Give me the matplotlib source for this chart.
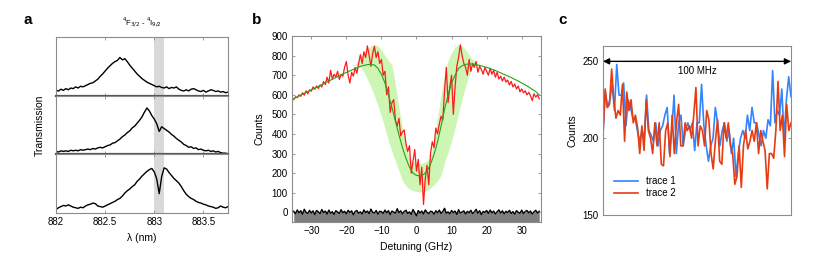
import numpy as np
import matplotlib
matplotlib.use('Agg')
import matplotlib.pyplot as plt

plt.rcParams['font.family'] = ['Liberation Sans', 'DejaVu Sans']

# ---- panel a : transmission spectra (normalised), 882.0 .. 883.75 nm step 0.025
lam_start = 882.0
lam_step = 0.025
trans1 = [0.09, 0.08, 0.11, 0.09, 0.12, 0.10, 0.13, 0.12, 0.15, 0.13,
          0.16, 0.15, 0.17, 0.19, 0.21, 0.22, 0.25, 0.28, 0.33, 0.37,
          0.42, 0.47, 0.51, 0.55, 0.58, 0.60, 0.65, 0.61, 0.63, 0.58,
          0.52, 0.47, 0.42, 0.37, 0.33, 0.29, 0.26, 0.23, 0.21, 0.19,
          0.17, 0.15, 0.16, 0.14, 0.13, 0.15, 0.12, 0.14, 0.13, 0.15,
          0.11, 0.09, 0.08, 0.10, 0.08, 0.11, 0.12, 0.10, 0.08, 0.07,
          0.09, 0.06, 0.08, 0.10, 0.09, 0.07, 0.08, 0.06, 0.07, 0.05, 0.06]
trans2 = [0.05, 0.04, 0.06, 0.05, 0.06, 0.05, 0.07, 0.06, 0.07, 0.06,
          0.08, 0.07, 0.08, 0.09, 0.08, 0.10, 0.09, 0.11, 0.12, 0.11,
          0.13, 0.15, 0.16, 0.19, 0.20, 0.23, 0.26, 0.30, 0.33, 0.37,
          0.40, 0.45, 0.48, 0.53, 0.58, 0.64, 0.72, 0.79, 0.74, 0.66,
          0.60, 0.52, 0.39, 0.47, 0.44, 0.41, 0.38, 0.34, 0.31, 0.27,
          0.24, 0.21, 0.17, 0.15, 0.12, 0.13, 0.10, 0.11, 0.08, 0.09,
          0.07, 0.06, 0.07, 0.05, 0.06, 0.04, 0.05, 0.03, 0.02, 0.02, 0.01]
trans3 = [0.06, 0.09, 0.11, 0.13, 0.12, 0.14, 0.12, 0.10, 0.09, 0.08,
          0.10, 0.09, 0.12, 0.14, 0.15, 0.17, 0.16, 0.12, 0.11, 0.10,
          0.12, 0.14, 0.16, 0.18, 0.20, 0.23, 0.25, 0.29, 0.34, 0.38,
          0.41, 0.45, 0.48, 0.54, 0.58, 0.63, 0.67, 0.71, 0.74, 0.76,
          0.70, 0.58, 0.33, 0.62, 0.77, 0.75, 0.69, 0.64, 0.59, 0.55,
          0.51, 0.45, 0.38, 0.32, 0.28, 0.25, 0.23, 0.20, 0.18, 0.17,
          0.15, 0.14, 0.12, 0.11, 0.10, 0.08, 0.09, 0.12, 0.10, 0.09, 0.11]
band_a = [883.0, 883.1]
ticks_a = [882, 882.5, 883, 883.5]

# ---- panel b : counts vs detuning, data every 0.5 GHz from -35
det_start = -35.0
det_step = 0.5
counts = [575, 590, 585, 600, 592, 610, 598, 620, 605, 625,
          618, 640, 628, 645, 632, 650, 640, 668, 652, 690,
          660, 725, 680, 705, 690, 720, 678, 705, 695, 740,
          770, 700, 660, 715, 695, 740, 710, 760, 805, 760,
          820, 790, 850, 800, 745, 810, 848, 790, 820, 760,
          780, 700, 720, 600, 640, 510, 560, 575, 470, 440,
          480, 390, 410, 420, 350, 310, 340, 200, 260, 320,
          210, 270, 140, 230, 40, 170, 240, 140, 300, 360,
          330, 430, 400, 450, 490, 470, 620, 740, 560, 640,
          700, 500, 640, 745, 790, 855, 800, 760, 740, 700,
          780, 720, 760, 740, 770, 715, 745, 730, 705, 740,
          720, 700, 735, 705, 725, 690, 715, 680, 695, 670,
          690, 665, 675, 650, 668, 640, 655, 630, 645, 615,
          630, 610, 620, 600, 612, 595, 570, 605, 588, 600, 580]
background = [5, -8, 12, -3, 8, -10, 15, 0, -6, 10, -4, 7, -12, 9, 2, -7, 14, -2, 6, -9,
              11, -5, 3, -11, 8, 1, -6, 13, -3, 5, -8, 10, -1, 7, -13, 4, 9, -5, 2, -9,
              12, -2, 6, -7, 16, 0, -4, 9, -10, 5, 3, -6, 11, -3, 8, -12, 6, 1, -5, 18,
              -2, 7, -8, 4, 10, -6, 2, -11, 14, -1, -18, 9, -4, 6, -9, 12, 0, -7, 5, 3,
              -10, 8, -3, 11, -6, 4, 20, -5, 2, -8, 9, -2, 6, -11, 13, -4, 1, 7, -9, 5,
              -3, 10, -7, 2, 15, -5, 8, -12, 4, -1, 9, -6, 11, -3, 6, -9, 3, 12, -4, 7,
              -8, 5, -2, 10, -6, 3, -10, 8, 0, -5, 11, -7, 4, 9, -3, 6, -9, 2, 10, -4, 5]
# fit, 1 GHz steps from -35 to 35
fit_start = -35
fit = [580, 589, 598, 607, 616, 625, 634, 643, 652, 661,
       670, 679, 688, 697, 706, 714, 722, 730, 738, 745,
       750, 754, 755, 752, 735, 705, 660, 600, 535, 465,
       395, 330, 275, 230, 200, 188, 186, 192, 210, 245,
       295, 360, 440, 525, 600, 660, 700, 735, 748, 755,
       758, 757, 754, 750, 745, 740, 734, 727, 720, 712,
       704, 696, 688, 679, 670, 660, 650, 640, 628, 616, 600]
# confidence band, 1 GHz steps from -18 to 18
band_start = -18
band_hi = [752, 762, 785, 810, 835, 850, 855, 850, 830, 800,
           775, 755, 650, 530, 430, 340, 275, 260, 250, 248,
           252, 262, 285, 370, 480, 600, 700, 775, 815, 845,
           855, 850, 830, 805, 780, 762, 755]
band_lo = [750, 752, 740, 715, 680, 640, 595, 545, 490, 430,
           365, 310, 260, 210, 160, 135, 118, 110, 106, 103,
           105, 112, 125, 140, 160, 190, 255, 305, 365, 430,
           510, 580, 645, 700, 740, 758, 755]

# ---- panel c : two traces over 100 MHz
trace1 = [203, 230, 220, 225, 235, 218, 248, 228, 228, 236,
          208, 225, 220, 213, 213, 205, 198, 205, 200, 228,
          205, 202, 198, 210, 195, 205, 208, 215, 220, 190,
          205, 228, 190, 210, 215, 195, 205, 210, 205, 210,
          192, 210, 210, 235, 208, 195, 185, 195, 200, 220,
          210, 195, 205, 210, 198, 205, 190, 200, 175, 190,
          200, 205, 200, 215, 205, 220, 210, 210, 202, 195,
          205, 200, 212, 208, 244, 210, 218, 215, 232, 200,
          225, 240, 227]
trace2 = [202, 232, 220, 222, 245, 225, 213, 218, 215, 235,
          198, 230, 218, 225, 210, 215, 207, 190, 208, 192,
          225, 205, 200, 190, 210, 195, 210, 183, 182, 205,
          210, 188, 215, 190, 210, 222, 195, 195, 210, 205,
          208, 200, 215, 233, 195, 208, 205, 195, 218, 212,
          190, 180, 198, 212, 185, 183, 210, 200, 210, 195,
          190, 170, 175, 195, 168, 195, 205, 193, 198, 205,
          198, 210, 190, 205, 198, 192, 167, 190, 190, 187,
          205, 237, 205, 215, 188, 222, 205, 210]
span_mhz = 100

SPINE = '#8c8c8c'
FS = 7


def style_box(ax):
    for s in ax.spines.values():
        s.set_color(SPINE)
        s.set_linewidth(0.8)
    ax.tick_params(direction='in', length=2.5, width=0.6, color=SPINE,
                   labelsize=FS, top=True, right=True, pad=3)


def plot_all():
    fig = plt.figure(figsize=(8.3, 2.64), dpi=100)

    # panel a
    left, width = 0.0675, 0.2072
    bottom, top = 0.193, 0.860
    h = (top - bottom) / 3
    lam = lam_start + lam_step * np.arange(len(trans1))
    axs = []
    for k, tr in enumerate([trans1, trans2, trans3]):
        ax = fig.add_axes([left, top - (k + 1) * h, width, h])
        ax.axvspan(band_a[0], band_a[1], color='#d9d9d9', lw=0, zorder=0)
        ax.plot(lam, tr, color='k', lw=1.0)
        ax.set_xlim(882, 883.75)
        ax.set_ylim(0, 1)
        ax.set_yticks([])
        ax.set_xticks(ticks_a)
        style_box(ax)
        ax.tick_params(axis='y', left=False, right=False)
        if k < 2:
            ax.tick_params(labelbottom=False)
            ax.spines['bottom'].set_color('#555555')
            ax.spines['bottom'].set_linewidth(1.6)
        else:
            ax.set_xticklabels(['882', '882.5', '883', '883.5'])
            ax.set_xlabel('λ (nm)', fontsize=FS + 0.5, labelpad=4)
        axs.append(ax)
    axs[1].set_ylabel('Transmission', fontsize=FS + 0.5, labelpad=8)
    axs[0].set_title(r'$^4$F$_{3/2}$ - $^4$I$_{9/2}$', fontsize=5.5, pad=8)

    # panel b
    ax = fig.add_axes([0.3518, 0.159, 0.300, 0.7045])
    det = det_start + det_step * np.arange(len(counts))
    detb = det_start + det_step * np.arange(len(background))
    dfit = fit_start + np.arange(len(fit))
    dband = band_start + np.arange(len(band_hi))
    ax.fill_between(dband, band_lo, band_hi, color='#cdf5b4', lw=0, zorder=1)
    ax.fill_between(detb, -50, background, color='#7f7f7f', lw=0, zorder=2)
    ax.plot(detb, background, color='k', lw=1.0, zorder=3)
    ax.plot(det, counts, color='#ff1a1a', lw=0.9, zorder=3)
    ax.plot(dfit, fit, color='#2e9e1e', lw=0.8, zorder=4)
    ax.set_xlim(-35.5, 35.5)
    ax.set_ylim(-50, 900)
    ax.set_xticks(np.arange(-30, 31, 10))
    ax.set_yticks(np.arange(0, 901, 100))
    style_box(ax)
    ax.set_xlabel('Detuning (GHz)', fontsize=FS + 0.5, labelpad=4)
    ax.set_ylabel('Counts', fontsize=FS + 0.5, labelpad=5)

    # panel c
    ax = fig.add_axes([0.7265, 0.1856, 0.2265, 0.6402])
    x1 = np.linspace(0, span_mhz, len(trace1))
    x2 = np.linspace(0, span_mhz, len(trace2))
    ax.plot(x1, trace1, color='#3385ff', lw=1.2, label='trace 1')
    ax.plot(x2, trace2, color='#e63c12', lw=1.2, label='trace 2')
    ax.annotate('', xy=(span_mhz, 250), xytext=(0, 250),
                arrowprops=dict(arrowstyle='<|-|>', color='k', lw=1.0,
                                mutation_scale=9, shrinkA=0, shrinkB=0))
    ax.text(span_mhz / 2, 244, '%d MHz' % span_mhz, ha='center', va='center',
            fontsize=FS)
    ax.set_xlim(0, span_mhz)
    ax.set_ylim(150, 260)
    ax.set_xticks([])
    ax.set_yticks([150, 200, 250])
    style_box(ax)
    ax.set_ylabel('Counts', fontsize=FS + 0.5, labelpad=4)
    ax.legend(loc='lower left', bbox_to_anchor=(0.02, 0.06), frameon=False,
              fontsize=FS, handlelength=2.5, labelspacing=0.2, borderpad=0.2)

    # panel letters
    for lbl, xp in [('a', 28), ('b', 257), ('c', 563)]:
        fig.text(xp / 830, 1 - 20 / 264, lbl, fontsize=11, fontweight='bold',
                 ha='center', va='center')

    fig.savefig('out.png', dpi=100)


if __name__ == "__main__":
    plot_all()
